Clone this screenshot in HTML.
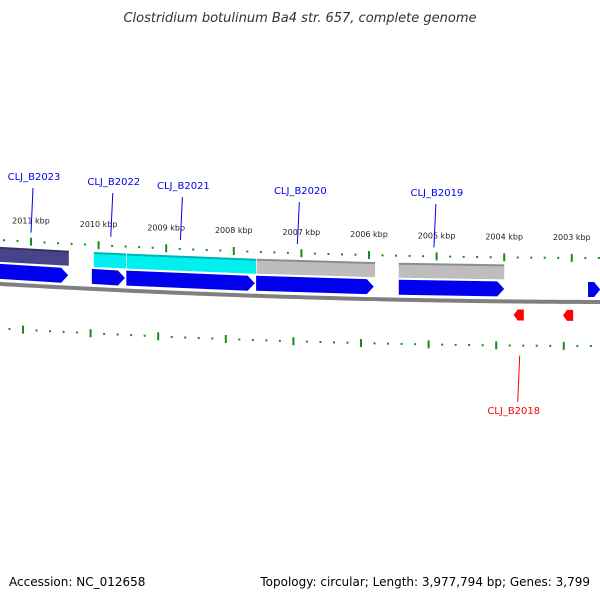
<!DOCTYPE html>
<html><head><meta charset="utf-8"><style>
body{margin:0;background:#fff}
svg text{font-family:"DejaVu Sans","Liberation Sans",sans-serif}
</style></head><body>
<svg id="chart" width="600" height="600" viewBox="0 0 600 600" xmlns="http://www.w3.org/2000/svg">
<text x="300" y="22" text-anchor="middle" font-size="13" font-style="italic" fill="#333">Clostridium botulinum Ba4 str. 657, complete genome</text>
<text x="9" y="586" font-size="12" fill="#000">Accession: NC_012658</text>
<text x="590" y="586" text-anchor="end" font-size="12" fill="#000">Topology: circular; Length: 3,977,794 bp; Genes: 3,799</text>
<g id="layer"></g>
</svg>
<script>
const tickKbp = [2011,2010,2009,2008,2007,2006,2005,2004,2003];
const fwdGeneStarts = [2011.46,2010.10,2009.59,2007.67,2005.56,2002.76];
const fwdGeneEnds   = [2010.45,2009.61,2007.69,2005.93,2004.00,2002.58];
const featStarts = [2011.46,2010.07,2009.58,2007.66,2005.56];
const featEnds   = [2010.44,2009.59,2007.67,2005.91,2004.00];
const featColors = ["#48448a","#00f0f0","#00f0f0","#bdbdbd","#bdbdbd"];
const revGeneStarts = [2003.86,2003.13];
const revGeneEnds   = [2003.71,2002.98];
const labelNames = ["CLJ_B2023","CLJ_B2022","CLJ_B2021","CLJ_B2020","CLJ_B2019"];
const labelKbp   = [2011.0,2009.82,2008.79,2007.06,2005.04];
const labelTextY = [176,181,185,190,192];
const revLabelNames = ["CLJ_B2018"];
const revLabelKbp = [2003.80];

const NS="http://www.w3.org/2000/svg";
const layer=document.getElementById('layer');
function X(k){return 31+(2011-k)*67.6;}
function YB(x){return 300-4.7e-5*(x-620)*(x-620);}
function mk(tag,attrs){const e=document.createElementNS(NS,tag);for(const a in attrs)e.setAttribute(a,attrs[a]);layer.appendChild(e);return e;}

// backbone
let d="";for(let x=-5;x<=605;x+=5){d+=(x===-5?"M":"L")+x+","+(YB(x)+2);}
const bb=mk('path',{d:d,stroke:"#808080","stroke-width":4,fill:"none"});



// ticks
for(let k=2011.6;k>=2002.4;k-=0.2){
  const kk=Math.round(k*10)/10;const x=X(kk);const major=Math.abs(kk-Math.round(kk))<0.01;
  const yu=YB(x)-42, yl=YB(x)+46;
  const h=major?4:1;
  const t1=mk('rect',{x:x-1,y:yu-h,width:2,height:2*h,fill:"#1a8a1a"});
  
  
  const t2=mk('rect',{x:x-8-1,y:yl-h,width:2,height:2*h,fill:"#1a8a1a"});
  
  
}
tickKbp.forEach(k=>{const x=X(k);
  const t=mk('text',{x:x,y:YB(x)-60,"text-anchor":"middle","font-size":"8",fill:"#222"});
  t.textContent=k+" kbp";
  
  
});

// features
featStarts.forEach((s,i)=>{const x1=X(s),x2=X(featEnds[i]);
  const y1=YB(x1)-35,y2=YB(x2)-35;
  const p=mk('polygon',{points:`${x1},${y1} ${x2},${y2} ${x2},${y2+15} ${x1},${y1+15}`,fill:featColors[i]});
  
  
  mk('line',{x1:x1,y1:y1+1,x2:x2,y2:y2+1,stroke:"rgba(0,0,0,0.25)","stroke-width":2});
});
// forward genes
fwdGeneStarts.forEach((s,i)=>{const x1=X(s),x2=X(fwdGeneEnds[i]);
  const y1=YB(x1)-18,y2=YB(x2)-18,h=15,a=Math.min(7,(x2-x1)/2);
  const p=mk('polygon',{points:`${x1},${y1} ${x2-a},${y2} ${x2},${y2+h/2} ${x2-a},${y2+h} ${x1},${y1+h}`,fill:"#0000ee"});
  
  
});
// reverse genes
revGeneStarts.forEach((s,i)=>{const x1=X(s),x2=X(revGeneEnds[i]);
  const y=YB(x1)+10,h=11;
  const p=mk('polygon',{points:`${x1+4},${y} ${x2},${y} ${x2},${y+h} ${x1+4},${y+h} ${x1},${y+h/2}`,fill:"#ff0000"});
  
  
});
// labels
labelNames.forEach((n,i)=>{const x=X(labelKbp[i]);
  const l=mk('line',{x1:x+2,y1:labelTextY[i]+12,x2:x,y2:YB(x)-51,stroke:"#0000ee","stroke-width":1});
  
  
  const t=mk('text',{x:x+3,y:labelTextY[i]+4,"text-anchor":"middle","font-size":"10",fill:"#0000ee"});
  t.textContent=n;
  
  
});
revLabelNames.forEach((n,i)=>{const x=X(revLabelKbp[i]);
  const l=mk('line',{x1:x+2,y1:YB(x)+56,x2:x,y2:402,stroke:"#ff0000","stroke-width":1});
  
  
  const t=mk('text',{x:x-4,y:414,"text-anchor":"middle","font-size":"10",fill:"#ff0000"});
  t.textContent=n;
  
  
});
</script>
</body></html>
